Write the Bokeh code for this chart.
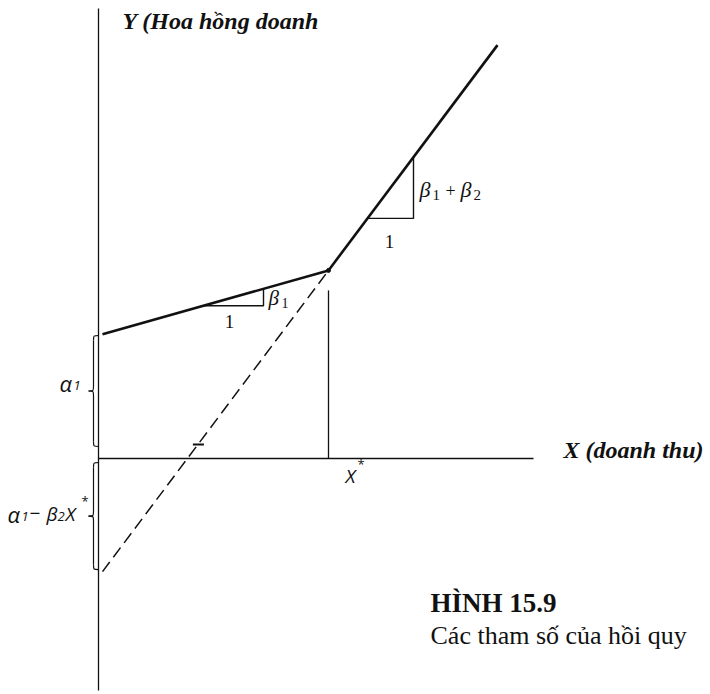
import numpy as np
from bokeh.plotting import figure
from bokeh.models import Range1d, Label
from bokeh.embed import file_html
from bokeh.resources import INLINE

# Piecewise-linear (spline) regression: Y = a1 + b1*X + b2*(X - X*)*D
# values expressed in drawing units
alpha1 = 123.0          # intercept of the first segment
beta1 = 0.283           # slope of the first segment
beta2 = 1.05            # change in slope after the threshold
x_star = 230.0          # threshold X*
x_start = 4.0           # where the drawn lines begin
x_end = 399.0           # where the second segment ends
x_axis_len = 435.0      # length of the horizontal axis
y_axis_top = 450.0
y_axis_bottom = -232.0

# slope triangles: (left x, right x) on each segment
tri1_x = [105.0, 165.0]
tri2_x = [269.0, 315.0]

# titles and labels
y_title = "Y (Hoa hồng doanh"
x_title = "X (doanh thu)"
fig_no = "HÌNH 15.9"
fig_caption = "Các tham số của hồi quy"

OX, OY = 98, 458   # screen position of the origin
W, H = 710, 694

p = figure(width=W, height=H, output_backend="svg", toolbar_location=None,
           x_range=Range1d(-OX, W - OX), y_range=Range1d(OY - H, OY),
           min_border=0, outline_line_color=None)
p.axis.visible = False
p.grid.visible = False
p.background_fill_color = "white"
p.border_fill_color = "white"

INK = "#111111"


def seg1(x):
    return alpha1 + beta1 * np.asarray(x)


def seg2(x):
    return alpha1 - beta2 * x_star + (beta1 + beta2) * np.asarray(x)


y_knot = float(seg1(x_star))

# axes
p.line([0, 0], [y_axis_bottom, y_axis_top], line_color=INK, line_width=1.3)
p.line([0, x_axis_len], [0, 0], line_color=INK, line_width=1.3)

# X* guide
p.line([x_star, x_star], [0, y_knot - 20], line_color=INK, line_width=1.3)

# fitted segments
p.line([x_start, x_star], [seg1(x_start), y_knot], line_color=INK, line_width=2.6)
p.line([x_star, x_end], [y_knot, seg2(x_end)], line_color=INK, line_width=2.6)
p.scatter([x_star], [y_knot], size=4, color=INK)

# extension of the second segment back to the Y axis
p.line([x_start, x_star], [seg2(x_start), y_knot], line_color=INK,
       line_width=1.5, line_dash="12 6")
x0_cross = float((14 - seg2(0)) / (beta1 + beta2))
p.line([x0_cross - 5, x0_cross + 6], [14, 14], line_color=INK, line_width=2)

# slope triangles
a, b = tri1_x
p.line([a, b, b], [seg1(a), seg1(a), seg1(b)], line_color=INK, line_width=1.4)
a, b = tri2_x
p.line([a, b, b], [seg2(a), seg2(a), seg2(b)], line_color=INK, line_width=1.4)


def brace(xs, y_top, y_bot, w=5.0):
    """Left-pointing curly brace with its spine at xs."""
    ym = 0.5 * (y_top + y_bot)
    xs0, ys0, xs1, ys1, cx0, cy0, cx1, cy1 = ([] for _ in range(8))

    def curve(p0, c0, c1, p1):
        xs0.append(p0[0]); ys0.append(p0[1])
        cx0.append(c0[0]); cy0.append(c0[1])
        cx1.append(c1[0]); cy1.append(c1[1])
        xs1.append(p1[0]); ys1.append(p1[1])

    curve((xs + w, y_top), (xs, y_top), (xs, y_top), (xs, y_top - w))
    curve((xs, ym + w), (xs, ym), (xs, ym), (xs - w, ym))
    curve((xs - w, ym), (xs, ym), (xs, ym), (xs, ym - w))
    curve((xs, y_bot + w), (xs, y_bot), (xs, y_bot), (xs + w, y_bot))
    p.bezier(x0=xs0, y0=ys0, x1=xs1, y1=ys1, cx0=cx0, cy0=cy0, cx1=cx1, cy1=cy1,
             line_color=INK, line_width=1.2)
    p.multi_line([[xs, xs], [xs, xs]],
                 [[y_top - w, ym + w], [ym - w, y_bot + w]],
                 line_color=INK, line_width=1.2)


brace(-5, alpha1, 12)
brace(-5, -4, float(seg2(x_start)) + 2)


def label(x, y, text, font="Liberation Serif", size=20, style="normal",
          align="left", baseline="alphabetic"):
    p.add_layout(Label(x=x, y=y, text=text, text_font=font,
                       text_font_size=f"{size}px", text_font_style=style,
                       text_color=INK, text_align=align,
                       text_baseline=baseline))


def sx(px):
    return px - OX


def sy(py):
    return OY - py


# titles
label(sx(122), sy(20), y_title, size=24, style="bold italic")
label(sx(563), sy(449), x_title, size=24, style="bold italic")
label(sx(430), sy(602), fig_no, size=27, style="bold")
label(sx(430), sy(635), fig_caption, size=26)

# X* under the axis
label(x_star + 17, sy(475), "X", font="Open Sans", size=19, style="italic")
label(x_star + 29, sy(463), "*", font="Open Sans", size=13)

# alpha_1 beside the upper brace
label(sx(59), sy(382), "α", font="Open Sans", size=22, style="italic")
label(sx(73), sy(385), "1", font="Open Sans", size=13, style="italic")

# alpha_1 - beta_2 X* beside the lower brace
label(sx(7), sy(513), "α", font="Open Sans", size=22, style="italic")
label(sx(21), sy(516), "1", font="Open Sans", size=13, style="italic")
label(sx(29), sy(513), "−", font="Open Sans", size=19)
label(sx(46), sy(513), "β", font="Open Sans", size=19, style="italic")
label(sx(57), sy(516), "2", font="Open Sans", size=13, style="italic")
label(sx(65), sy(513), "X", font="Open Sans", size=19, style="italic")
label(sx(81), sy(500), "*", font="Open Sans", size=13)

# slope annotations, first segment
label(tri1_x[1] + 5, sy(297), "β", size=21, style="italic")
label(tri1_x[1] + 18, sy(302), "1", size=14)
label(0.5 * sum(tri1_x) - 4, sy(321), "1", size=19, align="center")

# slope annotations, second segment
label(tri2_x[1] + 6, sy(189), "β", size=22, style="italic")
label(tri2_x[1] + 19, sy(194), "1", size=15)
label(tri2_x[1] + 32, sy(190), "+", size=18)
label(tri2_x[1] + 47, sy(189), "β", size=22, style="italic")
label(tri2_x[1] + 60, sy(194), "2", size=15)
label(0.5 * sum(tri2_x) - 1, sy(241), "1", size=19, align="center")

open("out.html", "w").write(file_html(p, INLINE))
